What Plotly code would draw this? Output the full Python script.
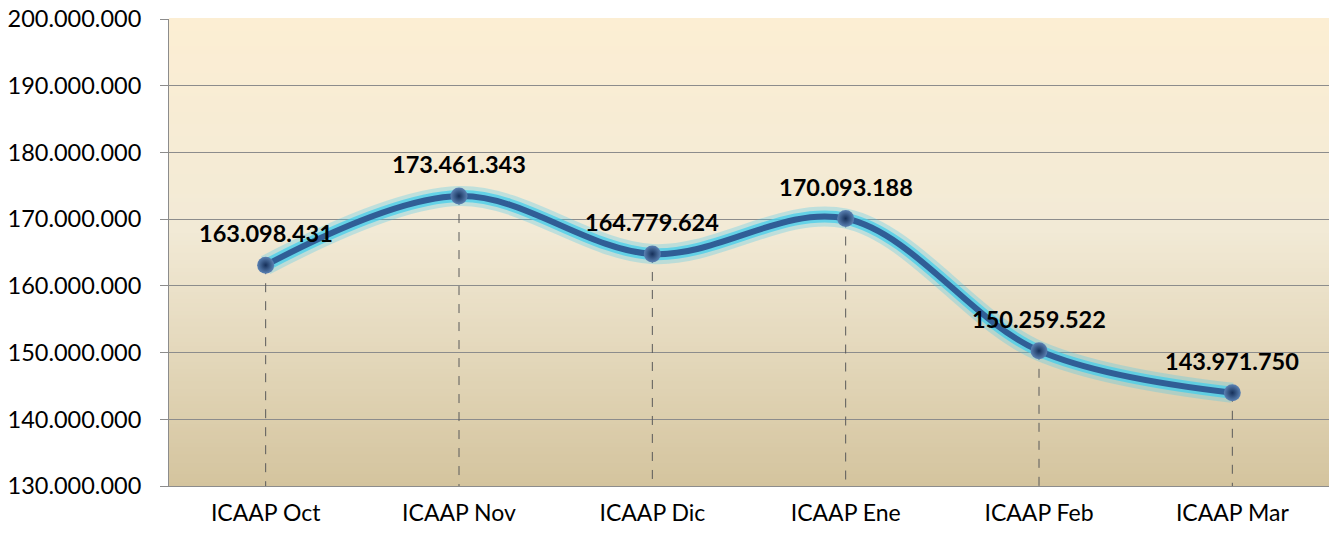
import plotly.graph_objects as go

categories = ["ICAAP Oct", "ICAAP Nov", "ICAAP Dic", "ICAAP Ene", "ICAAP Feb", "ICAAP Mar"]
values = [163098431, 173461343, 164779624, 170093188, 150259522, 143971750]
y_min, y_max, y_step = 130000000, 200000000, 10000000

def fmt(v):
    return f"{v:,}".replace(",", ".")

FONT = "Lato, 'Open Sans', sans-serif"

fig = go.Figure()

# gradient background stripes (style only)
def lerp(c1, c2, t):
    return tuple(round(a + (b - a) * t) for a, b in zip(c1, c2))

stops = [(0.0, (0xD4, 0xC4, 0x9E)), (0.55, (0xF2, 0xEA, 0xD6)), (1.0, (0xFC, 0xEE, 0xD3))]
N = 120
shapes = []
for i in range(N):
    t = (i + 0.5) / N
    for j in range(len(stops) - 1):
        if stops[j][0] <= t <= stops[j + 1][0]:
            tt = (t - stops[j][0]) / (stops[j + 1][0] - stops[j][0])
            c = lerp(stops[j][1], stops[j + 1][1], tt)
            break
    shapes.append(dict(type="rect", xref="paper", yref="paper", x0=0, x1=1,
                       y0=i / N, y1=(i + 1) / N + 0.002, layer="below",
                       fillcolor="rgb(%d,%d,%d)" % c, line=dict(width=0)))

# dashed drop lines
dx, dy = [], []
for c, v in zip(categories, values):
    dx += [c, c, None]
    dy += [v, y_min, None]
fig.add_trace(go.Scatter(x=dx, y=dy, mode="lines", hoverinfo="skip",
                         line=dict(color="#5a5a5a", width=1, dash="dash"), showlegend=False))

# glow
fig.add_trace(go.Scatter(x=categories, y=values, mode="lines", hoverinfo="skip",
                         line=dict(color="rgba(70,200,235,0.30)", width=20, shape="spline", smoothing=1),
                         showlegend=False))
fig.add_trace(go.Scatter(x=categories, y=values, mode="lines", hoverinfo="skip",
                         line=dict(color="rgba(70,205,235,0.75)", width=12, shape="spline", smoothing=1),
                         showlegend=False))
# main line
fig.add_trace(go.Scatter(x=categories, y=values, mode="lines+markers",
                         line=dict(color="#305e96", width=6, shape="spline", smoothing=1),
                         marker=dict(size=17, color="#5b82b4",
                                     gradient=dict(type="radial", color="#16305a"),
                                     line=dict(width=0)),
                         showlegend=False))

annotations = [dict(x=c, y=v, text="<b>%s</b>" % fmt(v), showarrow=False, yshift=32,
                    font=dict(family=FONT, size=23.5, color="#000000"))
               for c, v in zip(categories, values)]

tickvals = list(range(y_min, y_max + 1, y_step))
fig.update_layout(
    width=1330, height=533,
    margin=dict(l=169, r=1, t=19, b=47, autoexpand=False),
    paper_bgcolor="white", plot_bgcolor="#f2ead6",
    font=dict(family=FONT, size=23, color="#000000"),
    shapes=shapes, annotations=annotations,
    xaxis=dict(range=[-0.5, 5.5], showgrid=False, showline=True, linecolor="#8c8c8c",
               linewidth=1, ticks="", tickfont=dict(size=23), zeroline=False,
               automargin=False, ticklabelstandoff=6),
    yaxis=dict(range=[y_min, y_max], tickvals=tickvals, ticktext=[fmt(t) for t in tickvals],
               showgrid=True, gridcolor="#8c8c8c", gridwidth=1, showline=True,
               linecolor="#8c8c8c", linewidth=1, ticks="outside", ticklen=8,
               tickcolor="#8c8c8c", tickfont=dict(size=23.5), zeroline=False,
               automargin=False, ticklabelstandoff=14),
)

fig.write_html("out.html", config={"displayModeBar": False},
               post_script="document.body.style.margin='0px';document.body.style.overflow='hidden';")
